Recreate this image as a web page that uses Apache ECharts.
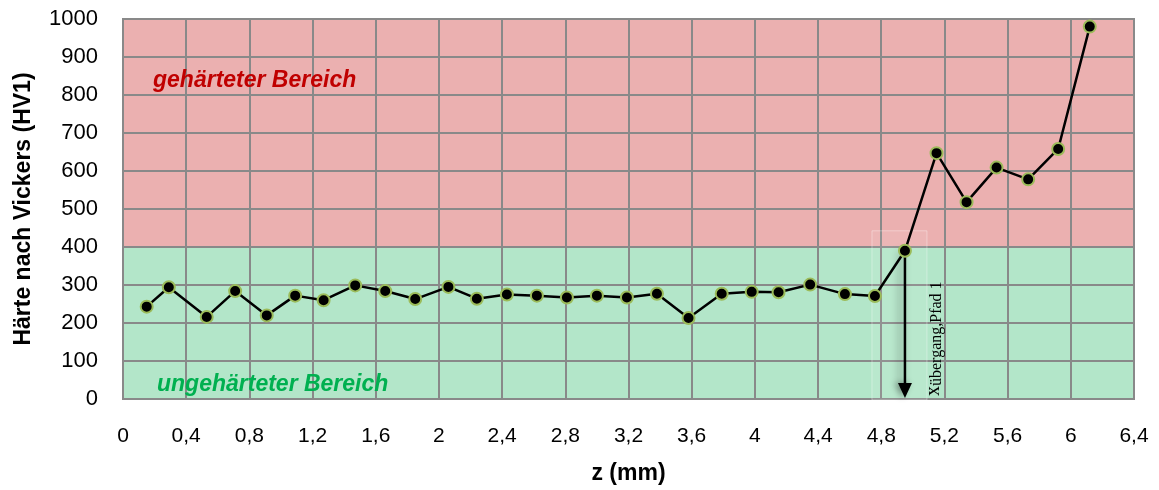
<!DOCTYPE html>
<html>
<head>
<meta charset="utf-8">
<script src="https://cdn.jsdelivr.net/npm/echarts@6/dist/echarts.min.js"></script>
<style>
  html, body { margin: 0; padding: 0; background: #ffffff; }
  #chart { width: 1159px; height: 490px; }
</style>
</head>
<body>
<div id="chart"></div>
<script>
// Depth below the surface (mm) and measured Vickers hardness (HV1)
const depthMm = [0.15, 0.29, 0.53, 0.71, 0.91, 1.09, 1.27, 1.47, 1.66, 1.85, 2.06, 2.24,
                 2.43, 2.62, 2.81, 3.00, 3.19, 3.38, 3.58, 3.79, 3.98, 4.15, 4.35, 4.57,
                 4.76, 4.95, 5.15, 5.34, 5.53, 5.73, 5.92, 6.12];
const hardnessHV1 = [243, 294, 216, 284, 220, 272, 260, 299, 284, 263, 295, 264,
                     275, 272, 267, 272, 267, 277, 213, 277, 282, 281, 301, 276,
                     271, 390, 647, 518, 609, 578, 658, 980];

// Tick labels (German decimal comma)
const xTickLabels = ['0', '0,4', '0,8', '1,2', '1,6', '2', '2,4', '2,8', '3,2', '3,6',
                     '4', '4,4', '4,8', '5,2', '5,6', '6', '6,4'];
const yTickLabels = ['0', '100', '200', '300', '400', '500', '600', '700', '800', '900', '1000'];

// Hardened / unhardened zone boundary and the transition point of path 1
const zoneLimitHV = 400;
const transitionIndex = 25;

const X_STEP = 0.4, Y_STEP = 100;
const GRID_GREY = '#898989';
const SOFT_GREEN = '#b3e6c9';
const HARD_RED = '#ebb0b0';
const SANS = "'Liberation Sans', Arimo, Arial, sans-serif";
const SERIF = "'Liberation Serif', 'DejaVu Serif', serif";

const zoneColors = yTickLabels.slice(0, -1).map((_, i) =>
  (i * Y_STEP < zoneLimitHV) ? SOFT_GREEN : HARD_RED);

const points = depthMm.map((z, i) => [z, hardnessHV1[i]]);
const transition = [[depthMm[transitionIndex], hardnessHV1[transitionIndex], 0]];

const chart = echarts.init(document.getElementById('chart'), null, { renderer: 'canvas' });

chart.setOption({
  animation: false,
  backgroundColor: '#ffffff',
  grid: {
    left: 123, right: 25, top: 19, bottom: 89,
    show: true, borderColor: GRID_GREY, borderWidth: 2, backgroundColor: 'transparent'
  },
  xAxis: {
    type: 'value', min: 0, max: 6.4, interval: X_STEP,
    axisLine: { show: true, lineStyle: { color: GRID_GREY, width: 2 } },
    axisTick: { show: false },
    splitLine: { show: true, lineStyle: { color: GRID_GREY, width: 2 } },
    axisLabel: {
      margin: 27, fontSize: 21, color: '#000', fontFamily: SANS,
      formatter: v => xTickLabels[Math.round(v / X_STEP)]
    },
    name: 'z (mm)', nameLocation: 'middle', nameGap: 63,
    nameTextStyle: { fontSize: 23, fontWeight: 'bold', color: '#000', fontFamily: SANS }
  },
  yAxis: {
    type: 'value', min: 0, max: 1000, interval: Y_STEP,
    axisLine: { show: true, lineStyle: { color: GRID_GREY, width: 2 } },
    axisTick: { show: false },
    splitLine: { show: true, lineStyle: { color: GRID_GREY, width: 2 } },
    splitArea: { show: true, areaStyle: { color: zoneColors, opacity: 1 } },
    axisLabel: {
      margin: 25, fontSize: 22, color: '#000', fontFamily: SANS,
      formatter: v => yTickLabels[Math.round(v / Y_STEP)]
    },
    name: 'Härte nach Vickers (HV1)', nameLocation: 'middle', nameGap: 88, nameRotate: 90,
    nameTextStyle: { fontSize: 23, fontWeight: 'bold', color: '#000', fontFamily: SANS }
  },
  graphic: [
    {
      type: 'text', left: 153, top: 69, z: 10,
      style: { text: 'gehärteter Bereich', fill: '#c00000',
               font: "italic bold 23px " + SANS }
    },
    {
      type: 'text', left: 157, top: 373, z: 10,
      style: { text: 'ungehärteter Bereich', fill: '#00b050',
               font: "italic bold 23px " + SANS }
    }
  ],
  series: [
    {
      type: 'line',
      data: points,
      z: 3,
      symbol: 'circle',
      symbolSize: 12,
      lineStyle: { color: '#000', width: 2.5 },
      itemStyle: { color: '#000', borderColor: '#9bbb59', borderWidth: 2 },
      silent: true
    },
    {
      // downward arrow marking the transition depth, with its label
      type: 'custom',
      data: transition,
      encode: { x: 0, y: 1 },
      z: 2,
      clip: false,
      silent: true,
      renderItem: (params, api) => {
        const top = api.coord([api.value(0), api.value(1)]);
        const bot = api.coord([api.value(0), api.value(2)]);
        const head = 16, halfW = 7;
        return {
          type: 'group',
          children: [
            {
              type: 'rect',
              shape: { x: bot[0] - 33, y: top[1] - 20, width: 55, height: bot[1] - top[1] + 21 },
              style: { fill: 'rgba(255,255,255,0.08)', stroke: 'rgba(255,255,255,0.35)', lineWidth: 1 }
            },
            {
              type: 'line',
              shape: { x1: top[0], y1: top[1], x2: bot[0], y2: bot[1] - head + 2 },
              style: { stroke: '#000', lineWidth: 2.5, shadowBlur: 8,
                       shadowColor: 'rgba(0,0,0,0.45)', shadowOffsetX: -4 }
            },
            {
              type: 'polygon',
              shape: { points: [[bot[0] - halfW, bot[1] - head], [bot[0] + halfW, bot[1] - head], [bot[0], bot[1] - 1]] },
              style: { fill: '#000', shadowBlur: 6, shadowColor: 'rgba(0,0,0,0.4)', shadowOffsetX: -3 }
            },
            {
              type: 'text',
              x: bot[0] + 29, y: bot[1] - 3,
              rotation: Math.PI / 2,
              style: {
                text: '{v|x}{s|übergang,Pfad 1}',
                align: 'left', verticalAlign: 'middle', fill: '#000',
                rich: {
                  v: { fontSize: 20, fontFamily: SERIF, fill: '#000' },
                  s: { fontSize: 16, fontFamily: SERIF, fill: '#000', padding: [5, 0, 0, 0] }
                }
              }
            }
          ]
        };
      }
    }
  ]
});
</script>
</body>
</html>
